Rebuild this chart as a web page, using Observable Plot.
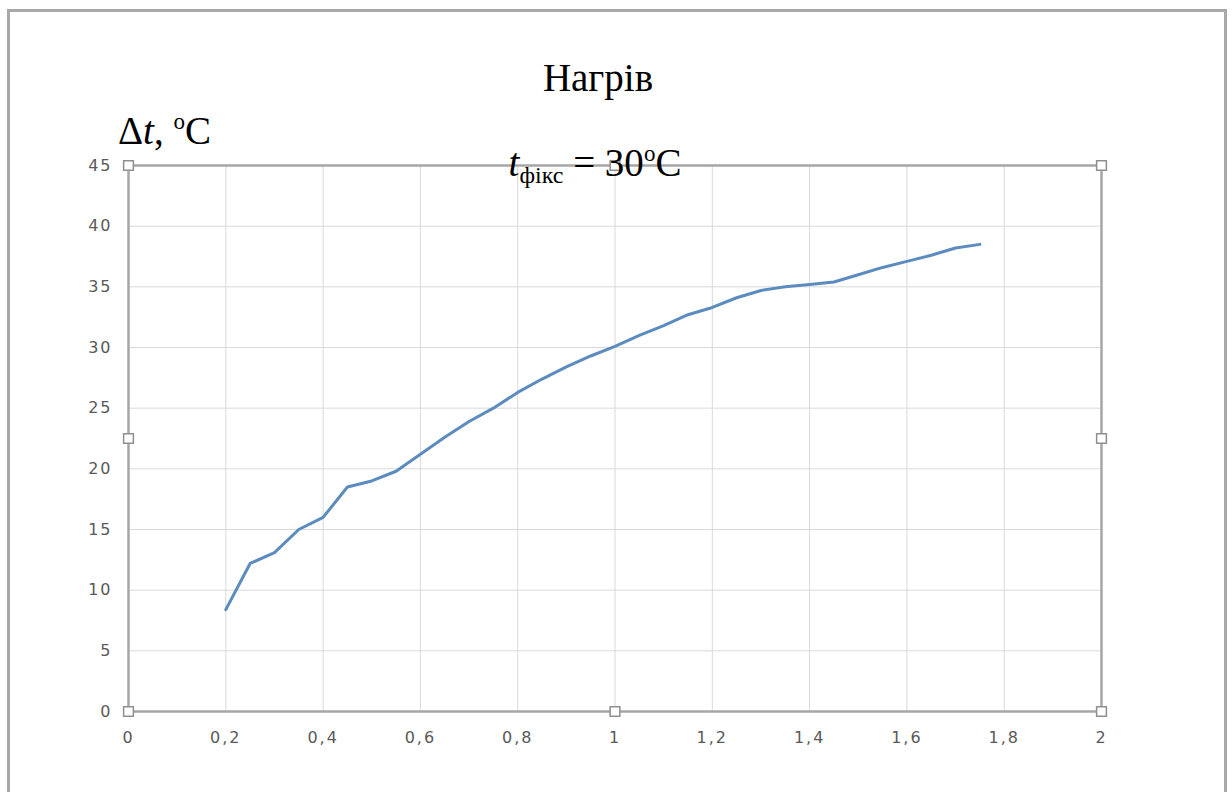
<!DOCTYPE html>
<html>
<head>
<meta charset="utf-8">
<script src="https://cdn.jsdelivr.net/npm/d3@7"></script>
<script src="https://cdn.jsdelivr.net/npm/@observablehq/plot@0.6"></script>
<style>
  html, body { margin: 0; padding: 0; background: #fff; }
  #wrap { position: relative; width: 1232px; height: 792px; overflow: hidden; }
  #frame { position: absolute; left: 7px; top: 9px; width: 1220px; height: 820px; border: 3px solid #a8a8a8; box-sizing: border-box; }
  .t { position: absolute; font-family: "Liberation Serif", "DejaVu Serif", serif; color: #000; white-space: nowrap; line-height: 1; }
  #chart { position: absolute; left: 0; top: 0; }
  #chart svg text { letter-spacing: 2px; }
</style>
</head>
<body>
<div id="wrap">
  <div id="frame"></div>
  <div id="chart"></div>
  <div class="t" id="title" style="left:0; width:1196px; text-align:center; top:58px; font-size:39px;">Нагрів</div>
  <div class="t" id="ylab" style="left:118px; top:111px; font-size:39px;">Δ<i>t</i>, <span style="font-size:23px; position:relative; top:-15px;">o</span>C</div>
  <div class="t" id="sub" style="left:0; width:1190px; text-align:center; top:143px; font-size:39px;"><i>t</i><span style="font-size:24px; position:relative; top:7px;">фікс</span> = 30<span style="font-size:23px; position:relative; top:-15px;">o</span>C</div>
</div>
<script>
// data
const xValues = [0.2,0.25,0.3,0.35,0.4,0.45,0.5,0.55,0.6,0.65,0.7,0.75,0.8,0.85,0.9,0.95,1.0,1.05,1.1,1.15,1.2,1.25,1.3,1.35,1.4,1.45,1.5,1.55,1.6,1.65,1.7,1.75];
const dtValues = [8.4,12.2,13.1,15.0,16.0,18.5,19.0,19.8,21.2,22.6,23.9,25.0,26.3,27.4,28.4,29.3,30.1,31.0,31.8,32.7,33.3,34.1,34.7,35.0,35.2,35.4,36.0,36.6,37.1,37.6,38.2,38.5];
const xTicks = [0,0.2,0.4,0.6,0.8,1,1.2,1.4,1.6,1.8,2];
const yTicks = [0,5,10,15,20,25,30,35,40,45];
const handleX = [0,1,2];
const handleY = [0,22.5,45];

const data = xValues.map((x, i) => ({x, y: dtValues[i]}));
const handles = [];
for (const hx of handleX) for (const hy of handleY) {
  if (hx === 1 && hy === 22.5) continue;
  handles.push({x: hx, y: hy});
}
const fmt = v => String(v).replace(".", ",");

const chart = Plot.plot({
  width: 1232,
  height: 792,
  marginLeft: 128,
  marginRight: 131,
  marginTop: 165,
  marginBottom: 81,
  style: { fontFamily: "'DejaVu Sans', 'Open Sans', sans-serif", fontSize: "16px", color: "#595959", background: "transparent" },
  x: { domain: [0, 2] },
  y: { domain: [0, 45] },
  marks: [
    Plot.gridX(xTicks, { stroke: "#d9d9d9", strokeOpacity: 1, strokeWidth: 1 }),
    Plot.gridY(yTicks, { stroke: "#d9d9d9", strokeOpacity: 1, strokeWidth: 1 }),
    Plot.frame({ stroke: "#a6a6a6", strokeWidth: 2.5 }),
    Plot.axisX(xTicks, { tickSize: 0, tickPadding: 20, tickFormat: fmt, fill: "#595959", fontSize: 16, label: null }),
    Plot.axisY(yTicks, { tickSize: 0, tickPadding: 16, tickFormat: fmt, fill: "#595959", fontSize: 16, label: null }),
    Plot.line(data, { x: "x", y: "y", stroke: "#5b8bbf", strokeWidth: 3, strokeLinejoin: "round", strokeLinecap: "round" }),
    Plot.dot(handles, { x: "x", y: "y", symbol: "square", r: 5.5, fill: "#fff", stroke: "#8f8f8f", strokeWidth: 1.5 })
  ]
});
document.getElementById("chart").appendChild(chart);
</script>
</body>
</html>
